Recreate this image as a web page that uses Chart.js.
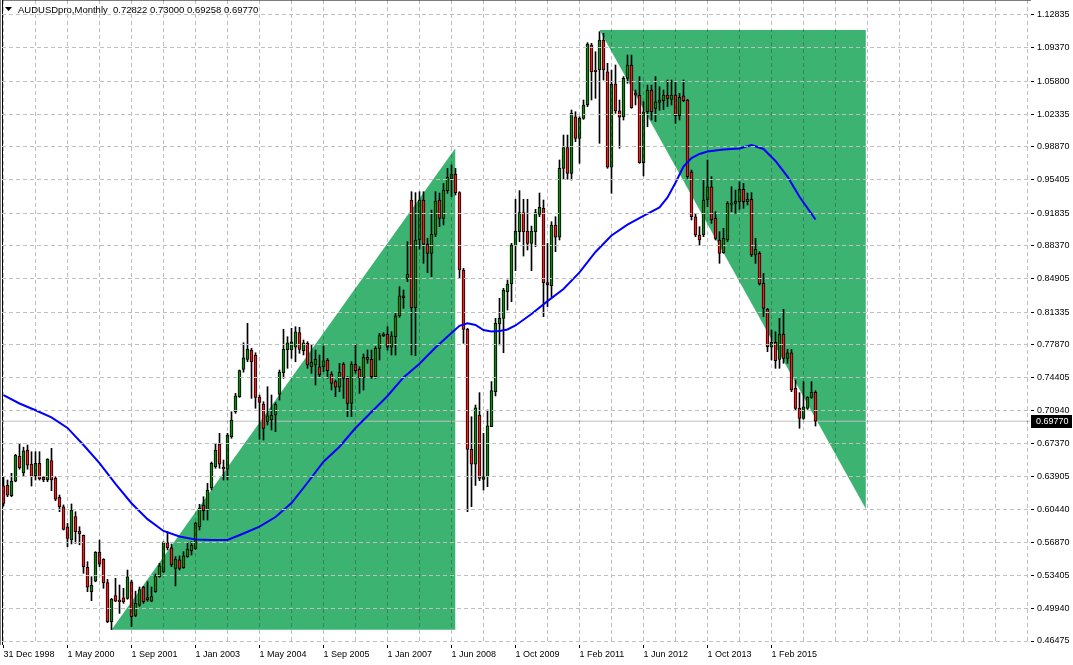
<!DOCTYPE html>
<html><head><meta charset="utf-8">
<script src="https://cdn.jsdelivr.net/npm/chart.js@4"></script>
<style>html,body{margin:0;padding:0;background:#fff;overflow:hidden}</style>
</head><body>
<canvas id="c" width="1073" height="665"></canvas>
<script>
// ---------- DATA ----------
const titleText = 'AUDUSDpro,Monthly  0.72822 0.73000 0.69258 0.69770';
const lastPrice = 0.69770;

const opens = [0.6291,0.6298,0.6188,0.6343,0.6606,0.6430,0.6672,0.6521,0.6400,0.6531,0.6383,0.6354,0.6559,0.6372,0.6171,0.6071,0.5859,0.5718,0.5966,0.5813,
0.5768,0.5429,0.5170,0.5282,0.5587,0.5513,0.5266,0.4853,0.5130,0.5082,0.5105,0.5100,0.5276,0.4918,0.5026,0.5217,0.5107,0.5069,0.5170,0.5329,
0.5382,0.5690,0.5634,0.5418,0.5507,0.5425,0.5542,0.5605,0.5625,0.5859,0.6089,0.6036,0.6269,0.6495,0.6733,0.6489,0.6468,0.6813,0.7078,0.7237,
0.7526,0.7633,0.7732,0.7679,0.7230,0.7160,0.6972,0.6990,0.7043,0.7262,0.7492,0.7732,0.7732,0.7761,0.7916,0.7725,0.7803,0.7555,0.7573,0.7555,
0.7555,0.7626,0.7478,0.7397,0.7337,0.7583,0.7432,0.7167,0.7580,0.7526,0.7440,0.7655,0.7633,0.7450,0.7750,0.7884,0.7899,0.7761,0.7873,0.8093,
0.8305,0.8492,0.9322,0.8180,0.8898,0.9322,0.8852,0.8757,0.8958,0.9322,0.9128,0.9421,0.9545,0.9598,0.9400,0.8580,0.7950,0.6679,0.6521,0.7043,
0.6361,0.6389,0.6920,0.7290,0.8008,0.8068,0.8350,0.8432,0.8838,0.8986,0.9188,0.8993,0.8863,0.8986,0.9170,0.9234,0.8446,0.8413,0.9057,0.8927,
0.9658,0.9877,0.9605,1.0205,0.9976,1.0188,1.0329,1.0965,1.0700,1.0700,1.1018,1.0682,0.9669,1.0552,1.0266,1.0205,1.0612,1.0753,1.0459,1.0435,
0.9717,1.0258,1.0488,1.0294,1.0357,1.0375,1.0435,1.0389,1.0435,1.0216,1.0425,1.0382,0.9622,0.9145,0.8951,0.8951,0.9322,0.9463,0.9128,0.8898,
0.8764,0.8898,0.9276,0.9287,0.9304,0.9435,0.9304,0.9330,0.8739,0.8757,0.8439,0.8164,0.7761,0.7814,0.7633,0.7902,0.7644,0.7703,0.7326,0.7114,
0.7008,0.7114,0.7230,0.72822];
const highs = [0.6389,0.6354,0.6425,0.6625,0.6743,0.6702,0.6725,0.6654,0.6654,0.6654,0.6389,0.6580,0.6690,0.6389,0.6195,0.6090,0.5895,0.6100,0.6018,0.5859,
0.5771,0.5488,0.5329,0.5595,0.5718,0.5520,0.5301,0.5100,0.5312,0.5241,0.5206,0.5400,0.5294,0.5176,0.5220,0.5227,0.5276,0.5220,0.5358,0.5471,
0.5700,0.5807,0.5676,0.5542,0.5549,0.5594,0.5694,0.5700,0.5906,0.6096,0.6177,0.6319,0.6545,0.6743,0.6849,0.6566,0.6849,0.7078,0.7273,0.7520,
0.7809,0.8015,0.7750,0.7703,0.7255,0.7184,0.7343,0.7255,0.7173,0.7520,0.7952,0.7873,0.7962,0.7979,0.7973,0.7838,0.7820,0.7785,0.7732,0.7679,
0.7774,0.7643,0.7502,0.7414,0.7591,0.7598,0.7450,0.7608,0.7792,0.7555,0.7690,0.7732,0.7732,0.7767,0.7910,0.7916,0.7979,0.7926,0.8121,0.8403,
0.8368,0.8880,0.9410,0.9400,0.9410,0.9410,0.8916,0.9216,0.9410,0.9396,0.9499,0.9658,0.9693,0.9658,0.9410,0.8598,0.7962,0.7025,0.7149,0.7280,
0.6849,0.7096,0.7397,0.8068,0.8280,0.8386,0.8474,0.8863,0.9330,0.9421,0.9330,0.9330,0.9046,0.9223,0.9396,0.9322,0.8863,0.9092,0.9145,0.9746,
1.0011,1.0011,1.0276,1.0258,1.0205,1.0382,1.0990,1.0983,1.0894,1.1106,1.1089,1.0771,1.0700,1.0753,1.0382,1.0630,1.0859,1.0859,1.0488,1.0630,
1.0364,1.0541,1.0541,1.0630,1.0523,1.0488,1.0594,1.0594,1.0576,1.0453,1.0594,1.0389,0.9640,0.9181,0.9039,0.9534,0.9746,0.9569,0.9198,0.8986,
0.9022,0.9304,0.9463,0.9428,0.9516,0.9499,0.9396,0.9400,0.8916,0.8774,0.8545,0.8174,0.7944,0.7926,0.8068,0.8164,0.7739,0.7739,0.7414,0.7280,
0.7397,0.7237,0.7397,0.73000];
const lows = [0.6078,0.6177,0.6177,0.6335,0.6468,0.6389,0.6468,0.6290,0.6354,0.6354,0.6336,0.6336,0.6241,0.6135,0.6018,0.5824,0.5647,0.5676,0.5683,0.5667,
0.5365,0.5170,0.5075,0.5275,0.5435,0.5206,0.4842,0.4769,0.5064,0.4940,0.5047,0.5090,0.4800,0.4905,0.5015,0.5047,0.5069,0.5064,0.5164,0.5323,
0.5371,0.5612,0.5435,0.5231,0.5400,0.5418,0.5535,0.5559,0.5620,0.5824,0.5930,0.5930,0.6248,0.6478,0.6478,0.6354,0.6354,0.6796,0.7061,0.7230,
0.7497,0.7608,0.7220,0.7114,0.6786,0.6778,0.6937,0.6884,0.6866,0.7202,0.7432,0.7538,0.7644,0.7608,0.7697,0.7679,0.7538,0.7485,0.7361,0.7450,
0.7502,0.7432,0.7308,0.7237,0.7290,0.7220,0.7025,0.7025,0.7485,0.7273,0.7308,0.7591,0.7432,0.7432,0.7626,0.7873,0.7732,0.7679,0.7679,0.8079,
0.8174,0.8456,0.7679,0.7672,0.8800,0.8651,0.8551,0.8509,0.8933,0.9039,0.9057,0.9393,0.9357,0.9375,0.8492,0.7803,0.6018,0.6071,0.6296,0.6347,
0.6248,0.6283,0.6920,0.7245,0.7785,0.7703,0.8156,0.8244,0.8573,0.8880,0.8728,0.8792,0.8573,0.8827,0.9145,0.8085,0.8190,0.8297,0.8774,0.8898,
0.9542,0.9542,0.9534,0.9940,0.9711,1.0177,1.0311,1.0382,1.0400,0.9923,1.0594,0.9658,0.9393,1.0241,0.9870,1.0170,1.0559,1.0294,1.0329,0.9711,
0.9577,1.0099,1.0170,1.0152,1.0273,1.0280,1.0311,1.0329,1.0135,1.0170,1.0364,0.9550,0.9110,0.8933,0.8845,0.8933,0.9251,0.9075,0.8898,0.8651,
0.8757,0.8880,0.9198,0.9181,0.9223,0.9234,0.9269,0.8722,0.8651,0.8421,0.8085,0.7714,0.7626,0.7538,0.7538,0.7591,0.7591,0.7290,0.7096,0.6902,
0.6997,0.7103,0.7220,0.69258];
const closes = [0.6107,0.6192,0.6340,0.6616,0.6485,0.6664,0.6510,0.6393,0.6531,0.6365,0.6354,0.6573,0.6354,0.6150,0.6071,0.5831,0.5735,0.6036,0.5807,0.5782,
0.5435,0.5217,0.5238,0.5587,0.5461,0.5266,0.4853,0.5090,0.5069,0.5064,0.5064,0.5329,0.4905,0.5048,0.5192,0.5064,0.5082,0.5118,0.5337,0.5443,
0.5690,0.5637,0.5454,0.5517,0.5418,0.5549,0.5620,0.5665,0.5895,0.6054,0.6029,0.6248,0.6531,0.6672,0.6521,0.6471,0.6831,0.6990,0.7245,0.7513,
0.7650,0.7739,0.7608,0.7230,0.7177,0.6902,0.7033,0.7040,0.7156,0.7496,0.7739,0.7809,0.7820,0.7926,0.7739,0.7809,0.7573,0.7602,0.7633,0.7467,
0.7616,0.7513,0.7379,0.7337,0.7496,0.7432,0.7167,0.7580,0.7513,0.7440,0.7655,0.7633,0.7450,0.7750,0.7884,0.7902,0.7761,0.7881,0.8093,0.8305,
0.8287,0.8535,0.8180,0.8898,0.9322,0.8852,0.8757,0.8958,0.9311,0.9128,0.9428,0.9563,0.9598,0.9400,0.8580,0.7950,0.6679,0.6521,0.7120,0.6372,
0.6389,0.6927,0.7301,0.8015,0.8068,0.8368,0.8432,0.8845,0.8993,0.9188,0.8986,0.8863,0.8993,0.9188,0.9245,0.8446,0.8421,0.9057,0.8927,0.9658,
0.9877,0.9605,1.0241,0.9976,1.0188,1.0329,1.0976,1.0682,1.0682,1.1018,1.0700,0.9669,1.0552,1.0266,1.0199,1.0612,1.0753,1.0301,1.0432,0.9717,
1.0258,1.0488,1.0258,1.0364,1.0382,1.0435,1.0400,1.0435,1.0216,1.0411,1.0375,0.9569,0.9145,0.8951,0.8898,0.9322,0.9463,0.9110,0.8916,0.8757,
0.8916,0.9287,0.9293,0.9311,0.9435,0.9304,0.9330,0.8739,0.8799,0.8432,0.8174,0.7767,0.7814,0.7619,0.7902,0.7644,0.7703,0.7308,0.7114,0.7008,
0.7131,0.7230,0.7283,0.69770];

// moving average (read at selected bars)
const maBars = [0,4,8,12,16,20,24,28,32,36,40,44,48,52,56,60,64,68,72,76,80,84,88,92,96,100,104,108,112,114,116,118,120,122,124,126,128,132,136,140,144,148,152,156,160,164,166,168,170,172,174,176,180,184,187,190,193,196,199,203];
const maValues = [0.7255,0.7165,0.7093,0.7017,0.6906,0.6725,0.6534,0.6312,0.6108,0.5939,0.5814,0.5755,0.5723,0.5718,0.5718,0.5787,0.5859,0.5962,0.6110,0.6325,0.6548,0.6707,0.6905,0.7075,0.7245,0.7441,0.7587,0.7759,0.7912,0.7988,0.8015,0.7997,0.7944,0.7928,0.7934,0.7950,0.7992,0.8114,0.8250,0.8379,0.8554,0.8771,0.8946,0.9060,0.9153,0.9243,0.9349,0.9505,0.9677,0.9767,0.9810,0.9836,0.9857,0.9868,0.9905,0.9863,0.9736,0.9571,0.9357,0.9115];

// triangle objects (bar index, price)
const tri1Bars = [27, 113];
const tri1Prices = [0.4767, 0.9874];
const tri2Bars = [149, 215.6];
const tri2Prices = [1.1124, 0.6047];

// axis labels
const yTickValues = [1.12835,1.09370,1.05800,1.02335,0.98870,0.95405,0.91835,0.88370,0.84905,0.81335,0.77870,0.74405,0.70940,0.67370,0.63905,0.60440,0.56870,0.53405,0.49940,0.46475];
const xTickBars = [0,16,32,48,64,80,96,112,128,144,160,176,192];
const xTickLabels = ['31 Dec 1998','1 May 2000','1 Sep 2001','1 Jan 2003','1 May 2004','1 Sep 2005','1 Jan 2007','1 Jun 2008','1 Oct 2009','1 Feb 2011','1 Jun 2012','1 Oct 2013','1 Feb 2015'];

// ---------- CHART ----------
const FONT = "'Liberation Sans', Arial, sans-serif";
const X_MIN = -0.375, X_MAX = 256.625;
const Y_MIN = 0.46157, Y_MAX = 1.14421;
const BULL = '#0a8a0a', BEAR = '#f01c1c';

const bodies = opens.map((o, i) => ({x: i, y: [o, closes[i]]}));
const wicks = highs.map((h, i) => ({x: i, y: [lows[i], h]}));
const bodyColors = opens.map((o, i) => closes[i] >= o ? BULL : BEAR);
const maData = maBars.map((b, k) => ({x: b, y: maValues[k]}));
const tri1Data = tri1Bars.map((b, k) => ({x: b, y: tri1Prices[k]}));
const tri2Data = tri2Bars.map((b, k) => ({x: b, y: tri2Prices[k]}));
const priceLine = [{x: X_MIN, y: lastPrice}, {x: X_MAX, y: lastPrice}];

const noPad = s => { s.paddingTop = 0; s.paddingBottom = 0; s.paddingLeft = 0; s.paddingRight = 0; };

const overlay = {
  id: 'overlay',
  afterDraw(chart) {
    const ctx = chart.ctx, ys = chart.scales.y;
    ctx.save();
    ctx.fillStyle = '#000';
    ctx.beginPath(); ctx.moveTo(5, 7); ctx.lineTo(12, 7); ctx.lineTo(8.5, 11); ctx.closePath(); ctx.fill();
    ctx.font = '9.5px ' + FONT;
    ctx.textBaseline = 'middle';
    ctx.fillText(titleText, 18, 10);
    const py = Math.round(ys.getPixelForValue(lastPrice));
    ctx.fillRect(ys.left + 1, py - 6, 41, 13);
    ctx.fillStyle = '#fff';
    ctx.font = '9px ' + FONT;
    ctx.fillText(lastPrice.toFixed(5), ys.left + 6, py + 0.5);
    ctx.restore();
  }
};

new Chart(document.getElementById('c'), {
  type: 'bar',
  data: {
    datasets: [
      {type: 'line', data: maData, borderColor: '#0000ff', borderWidth: 2, pointRadius: 0, tension: 0, fill: false, order: 0},
      {type: 'bar', data: bodies, backgroundColor: bodyColors, borderColor: '#000', borderWidth: 1, borderSkipped: false, barThickness: 3, grouped: false, order: 1},
      {type: 'bar', data: wicks, backgroundColor: '#000', borderWidth: 0, barThickness: 1, grouped: false, order: 2},
      {type: 'line', data: priceLine, borderColor: '#c0c0c0', borderWidth: 1, pointRadius: 0, fill: false, order: 3},
      {type: 'line', data: tri1Data, borderColor: 'rgba(0,0,0,0)', borderWidth: 0, pointRadius: 0, backgroundColor: '#3cb371', fill: {value: tri1Prices[0]}, order: 4},
      {type: 'line', data: tri2Data, borderColor: 'rgba(0,0,0,0)', borderWidth: 0, pointRadius: 0, backgroundColor: '#3cb371', fill: {value: tri2Prices[0]}, order: 5}
    ]
  },
  options: {
    responsive: false,
    animation: false,
    devicePixelRatio: 1,
    layout: {padding: 0},
    plugins: {legend: {display: false}, tooltip: {enabled: false}},
    scales: {
      x: {
        type: 'linear', position: 'bottom', min: X_MIN, max: X_MAX, offset: false,
        afterBuildTicks: s => { const t = []; for (let v = 0; v <= 256; v += 8) t.push({value: v}); s.ticks = t; },
        afterFit: s => { s.height = 21; noPad(s); },
        grid: {
          offset: false, z: 1, color: 'rgba(0,0,0,0.25)', lineWidth: 1,
          tickLength: 4, tickBorderDash: [],
          tickColor: c => (c.tick && xTickBars.includes(c.tick.value)) ? '#000' : 'rgba(0,0,0,0)'
        },
        border: {display: true, color: '#000', width: 1, dash: [4, 3]},
        ticks: {
          autoSkip: false, maxRotation: 0, minRotation: 0, align: 'start', padding: 1,
          color: '#000', font: {family: FONT, size: 9},
          callback: v => { const k = xTickBars.indexOf(v); return k >= 0 ? xTickLabels[k] : ''; }
        }
      },
      y: {
        type: 'linear', position: 'right', min: Y_MIN, max: Y_MAX,
        afterBuildTicks: s => { s.ticks = yTickValues.map(v => ({value: v})); },
        afterFit: s => { s.width = 43; noPad(s); },
        grid: {z: 1, color: '#c0c0c0', lineWidth: 1, tickLength: 4, tickBorderDash: [], tickColor: '#000'},
        border: {display: true, color: '#000', width: 1, dash: [4, 3]},
        ticks: {autoSkip: false, padding: 3, color: '#000', font: {family: FONT, size: 9}, callback: v => v.toFixed(5)}
      },
      yL: {
        type: 'linear', position: 'left', display: true,
        afterFit: s => { s.width = 2; noPad(s); },
        grid: {display: false, drawTicks: false},
        border: {display: true, color: '#000', width: 1},
        ticks: {display: false}
      }
    }
  },
  plugins: [overlay]
});
</script>
</body></html>
